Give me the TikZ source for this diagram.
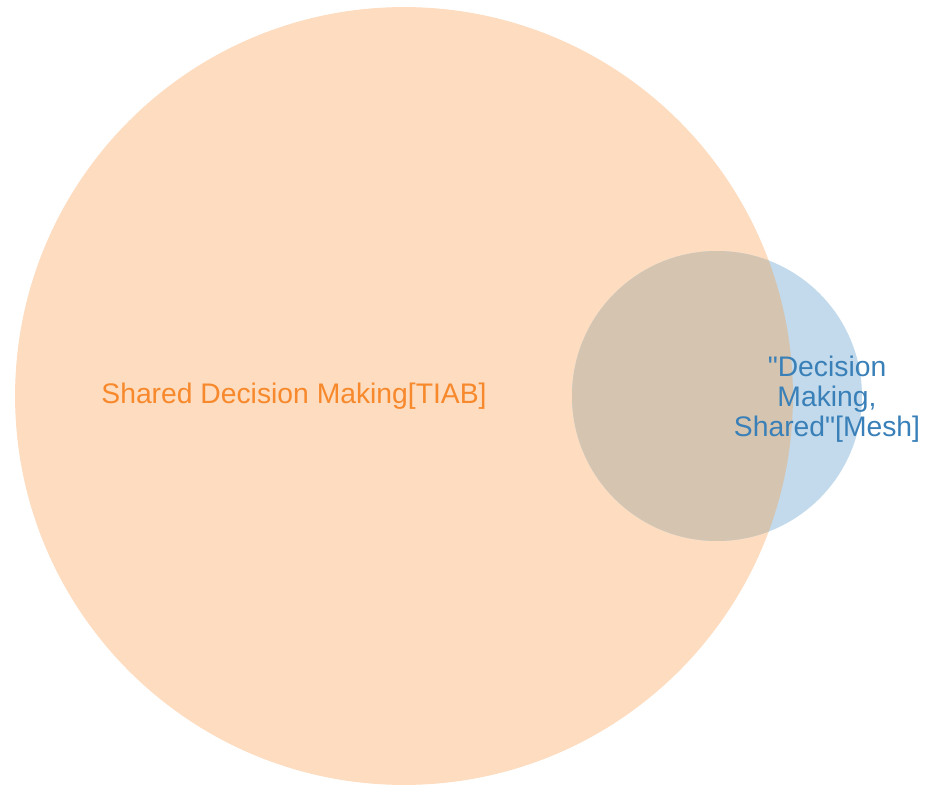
\documentclass[tikz,border=0pt]{standalone}
\usepackage{fontspec}
\setmainfont{Liberation Sans}[Ligatures=TeXOff]
\usepackage{tikz}

\definecolor{tiabfill}{RGB}{253,220,191}
\definecolor{meshfill}{RGB}{194,218,235}
\definecolor{bothfill}{RGB}{213,196,176}
\definecolor{tiabtext}{RGB}{247,137,44}
\definecolor{meshtext}{RGB}{58,128,184}

\begin{document}
\begin{tikzpicture}[x=0.02cm, y=-0.02cm,
    setlabel/.style={font=\fontsize{16.1}{18}\selectfont, align=center, inner sep=0pt}]
            \useasboundingbox (0,0) rectangle (926,785);
            \coordinate (tiab) at (404,396);
            \coordinate (mesh) at (717,396);
            \fill[tiabfill] (tiab) circle[radius=7.78cm];
            \fill[meshfill] (mesh) circle[radius=2.9cm];
            \begin{scope}
                \clip (tiab) circle[radius=7.78cm];
                \fill[bothfill] (mesh) circle[radius=2.9cm];
            \end{scope}
            \node[setlabel, text=tiabtext] (tiablabel) at (294,396) {Shared Decision Making[TIAB]};
            \node[setlabel, text=meshtext, text depth=0pt] (meshlabel) at (827,396) {"Decision\\[-1pt]Making,\\[-1pt]Shared"[Mesh]};
        \end{tikzpicture}
\end{document}
